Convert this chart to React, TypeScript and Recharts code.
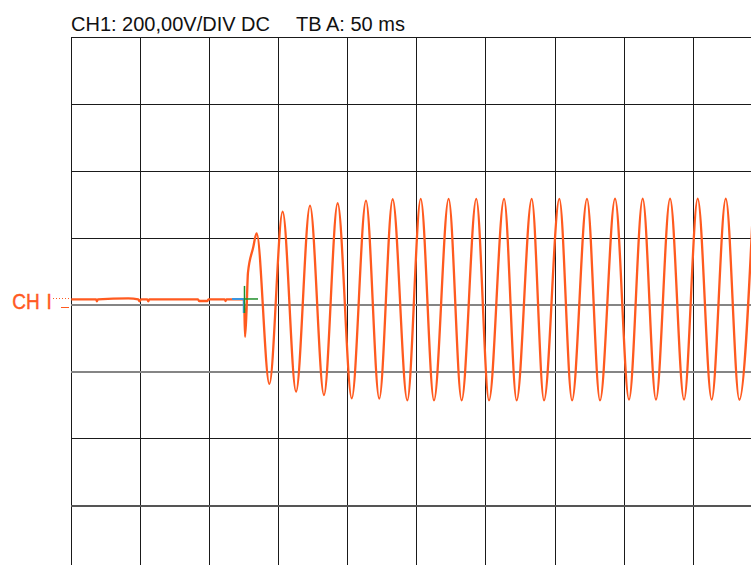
import React from 'react';
import { LineChart, Line, XAxis, YAxis, ReferenceLine } from 'recharts';

// time in ms (10 div x 50 ms), CH1 voltage in V (200 V/div)
const TIME_MS = [
  0, 18.0, 18.5, 19.2, 41.2, 48.5, 49.3, 50.5, 55.0, 55.7, 56.4, 91.7, 92.4, 98.5, 99.2,
  111.0, 111.6, 112.2, 125.0, 125.7, 126.8, 127.8, 131.5,
  134.1, 143.3, 152.9, 162.6, 172.7, 182.8, 192.7, 202.9, 213.2, 222.8,
  232.5, 243.1, 252.8, 262.4, 273.0, 282.4, 293.0, 302.2, 313.1, 322.2,
  333.1, 342.0, 353.1, 362.3, 373.1, 382.5, 393.4, 403.5, 413.4, 423.0,
  433.2, 443.3, 453.2, 463.3, 473.5, 483.3, 493.5,
];
const CH1_VOLTS = [
  17, 17, 11, 17, 20, 17, 11, 17, 17, 11, 17, 17, 12, 12, 17,
  17, 12, 17, 17, -95, -15, 96, 170,
  214, -236, 279, -259, 297, -269, 304, -279, 312, -280,
  316, -285, 317, -285, 317, -285, 317, -285, 317, -285,
  317, -285, 317, -285, 317, -285, 318, -283, 318, -283,
  318, -283, 318, -283, 318, -283, 318,
];

const TIME_GRID_MS = [0, 50, 100, 150, 200, 250, 300, 350, 400, 450, 500];
const VOLT_GRID_DARK = [800, 600, 400, 200, -400, -800];
const VOLT_GRID_GRAY = [0, -200];
const VOLT_GRID_MIXED = [-600];

const HEADER_CH = 'CH1: 200,00V/DIV DC';
const HEADER_TB = 'TB A: 50 ms';
const CH_LABEL = 'CH';
const CH_LABEL_NUM = 'I';

// trigger marker (data units)
const TRIG_T = 125.3;
const TRIG_V = 18;
const TRIG_V_TOP = 57;
const TRIG_V_BOTTOM = -24;
const TRIG_BLUE_START = 116.3;
const TRIG_GREEN_END = 135.1;

const data = TIME_MS.map((t, i) => ({ t, v: CH1_VOLTS[i] }));

const ORANGE = '#ff5a1f';
const GRID = '#1a1a1a';
const GREEN = '#1f8f2a';
const BLUE = '#3a96e0';
const FONT = '"Liberation Sans", Arial, Helvetica, sans-serif';

export default function App() {
  return (
    <div
      style={{
        position: 'absolute',
        left: 0,
        top: 0,
        width: 751,
        height: 565,
        overflow: 'hidden',
        background: '#fff',
      }}
    >
      <div style={{ position: 'absolute', left: 0, top: 0 }}>
        <LineChart
          width={800}
          height={600}
          data={data}
          margin={{ top: 37.3, right: 37.6, bottom: 27.3, left: 71.3 }}
        >
          <XAxis type="number" dataKey="t" domain={[0, 500]} hide />
          <YAxis type="number" domain={[-800, 800]} hide />
          {TIME_GRID_MS.map((t) => (
            <ReferenceLine key={'x' + t} x={t} stroke={GRID} strokeWidth={1} shapeRendering="crispEdges" />
          ))}
          {VOLT_GRID_DARK.map((v) => (
            <ReferenceLine key={'yd' + v} y={v} stroke={GRID} strokeWidth={1} shapeRendering="crispEdges" />
          ))}
          {VOLT_GRID_GRAY.map((v) => (
            <ReferenceLine key={'yg' + v} y={v} stroke="#858585" strokeWidth={2} shapeRendering="crispEdges" />
          ))}
          {VOLT_GRID_MIXED.map((v) => (
            <ReferenceLine key={'ym' + v} y={v} stroke="#555" strokeWidth={2} shapeRendering="crispEdges" />
          ))}
          <Line
            type="monotone"
            dataKey="v"
            stroke={ORANGE}
            strokeWidth={2.3}
            dot={false}
            isAnimationActive={false}
          />
          <ReferenceLine
            segment={[
              { x: TRIG_BLUE_START, y: TRIG_V },
              { x: TRIG_T, y: TRIG_V },
            ]}
            stroke={BLUE}
            strokeWidth={2}
          />
          <ReferenceLine
            segment={[
              { x: TRIG_T - 0.7, y: TRIG_V },
              { x: TRIG_T - 0.7, y: TRIG_V_BOTTOM },
            ]}
            stroke={BLUE}
            strokeWidth={1.5}
          />
          <ReferenceLine
            segment={[
              { x: TRIG_T, y: TRIG_V_TOP },
              { x: TRIG_T, y: TRIG_V_BOTTOM },
            ]}
            stroke={GREEN}
            strokeWidth={1.5}
          />
          <ReferenceLine
            segment={[
              { x: TRIG_T, y: TRIG_V },
              { x: TRIG_GREEN_END, y: TRIG_V },
            ]}
            stroke={GREEN}
            strokeWidth={1.5}
          />
        </LineChart>
      </div>
      <svg
        width={751}
        height={565}
        style={{ position: 'absolute', left: 0, top: 0, pointerEvents: 'none' }}
      >
        <text x={71} y={30.7} fontFamily={FONT} fontSize={20} fill="#111">
          {HEADER_CH}
        </text>
        <text x={296} y={30.7} fontFamily={FONT} fontSize={20} fill="#111">
          {HEADER_TB}
        </text>
        <g transform="translate(0,309.5) scale(1,1.12) translate(0,-309.5)">
          <text x={12.3} y={309.5} fontFamily={FONT} fontSize={19} fill={ORANGE} stroke={ORANGE} strokeWidth={0.4}>
            {CH_LABEL}
          </text>
          <text x={46.5} y={309.5} fontFamily={FONT} fontSize={19} fill={ORANGE} stroke={ORANGE} strokeWidth={0.4}>
            {CH_LABEL_NUM}
          </text>
        </g>
        <line x1={53} y1={298.5} x2={70} y2={298.5} stroke={ORANGE} strokeWidth={1} strokeDasharray="1 2" />
        <line x1={61} y1={307.5} x2={69} y2={307.5} stroke={ORANGE} strokeWidth={1} />
      </svg>
    </div>
  );
}
